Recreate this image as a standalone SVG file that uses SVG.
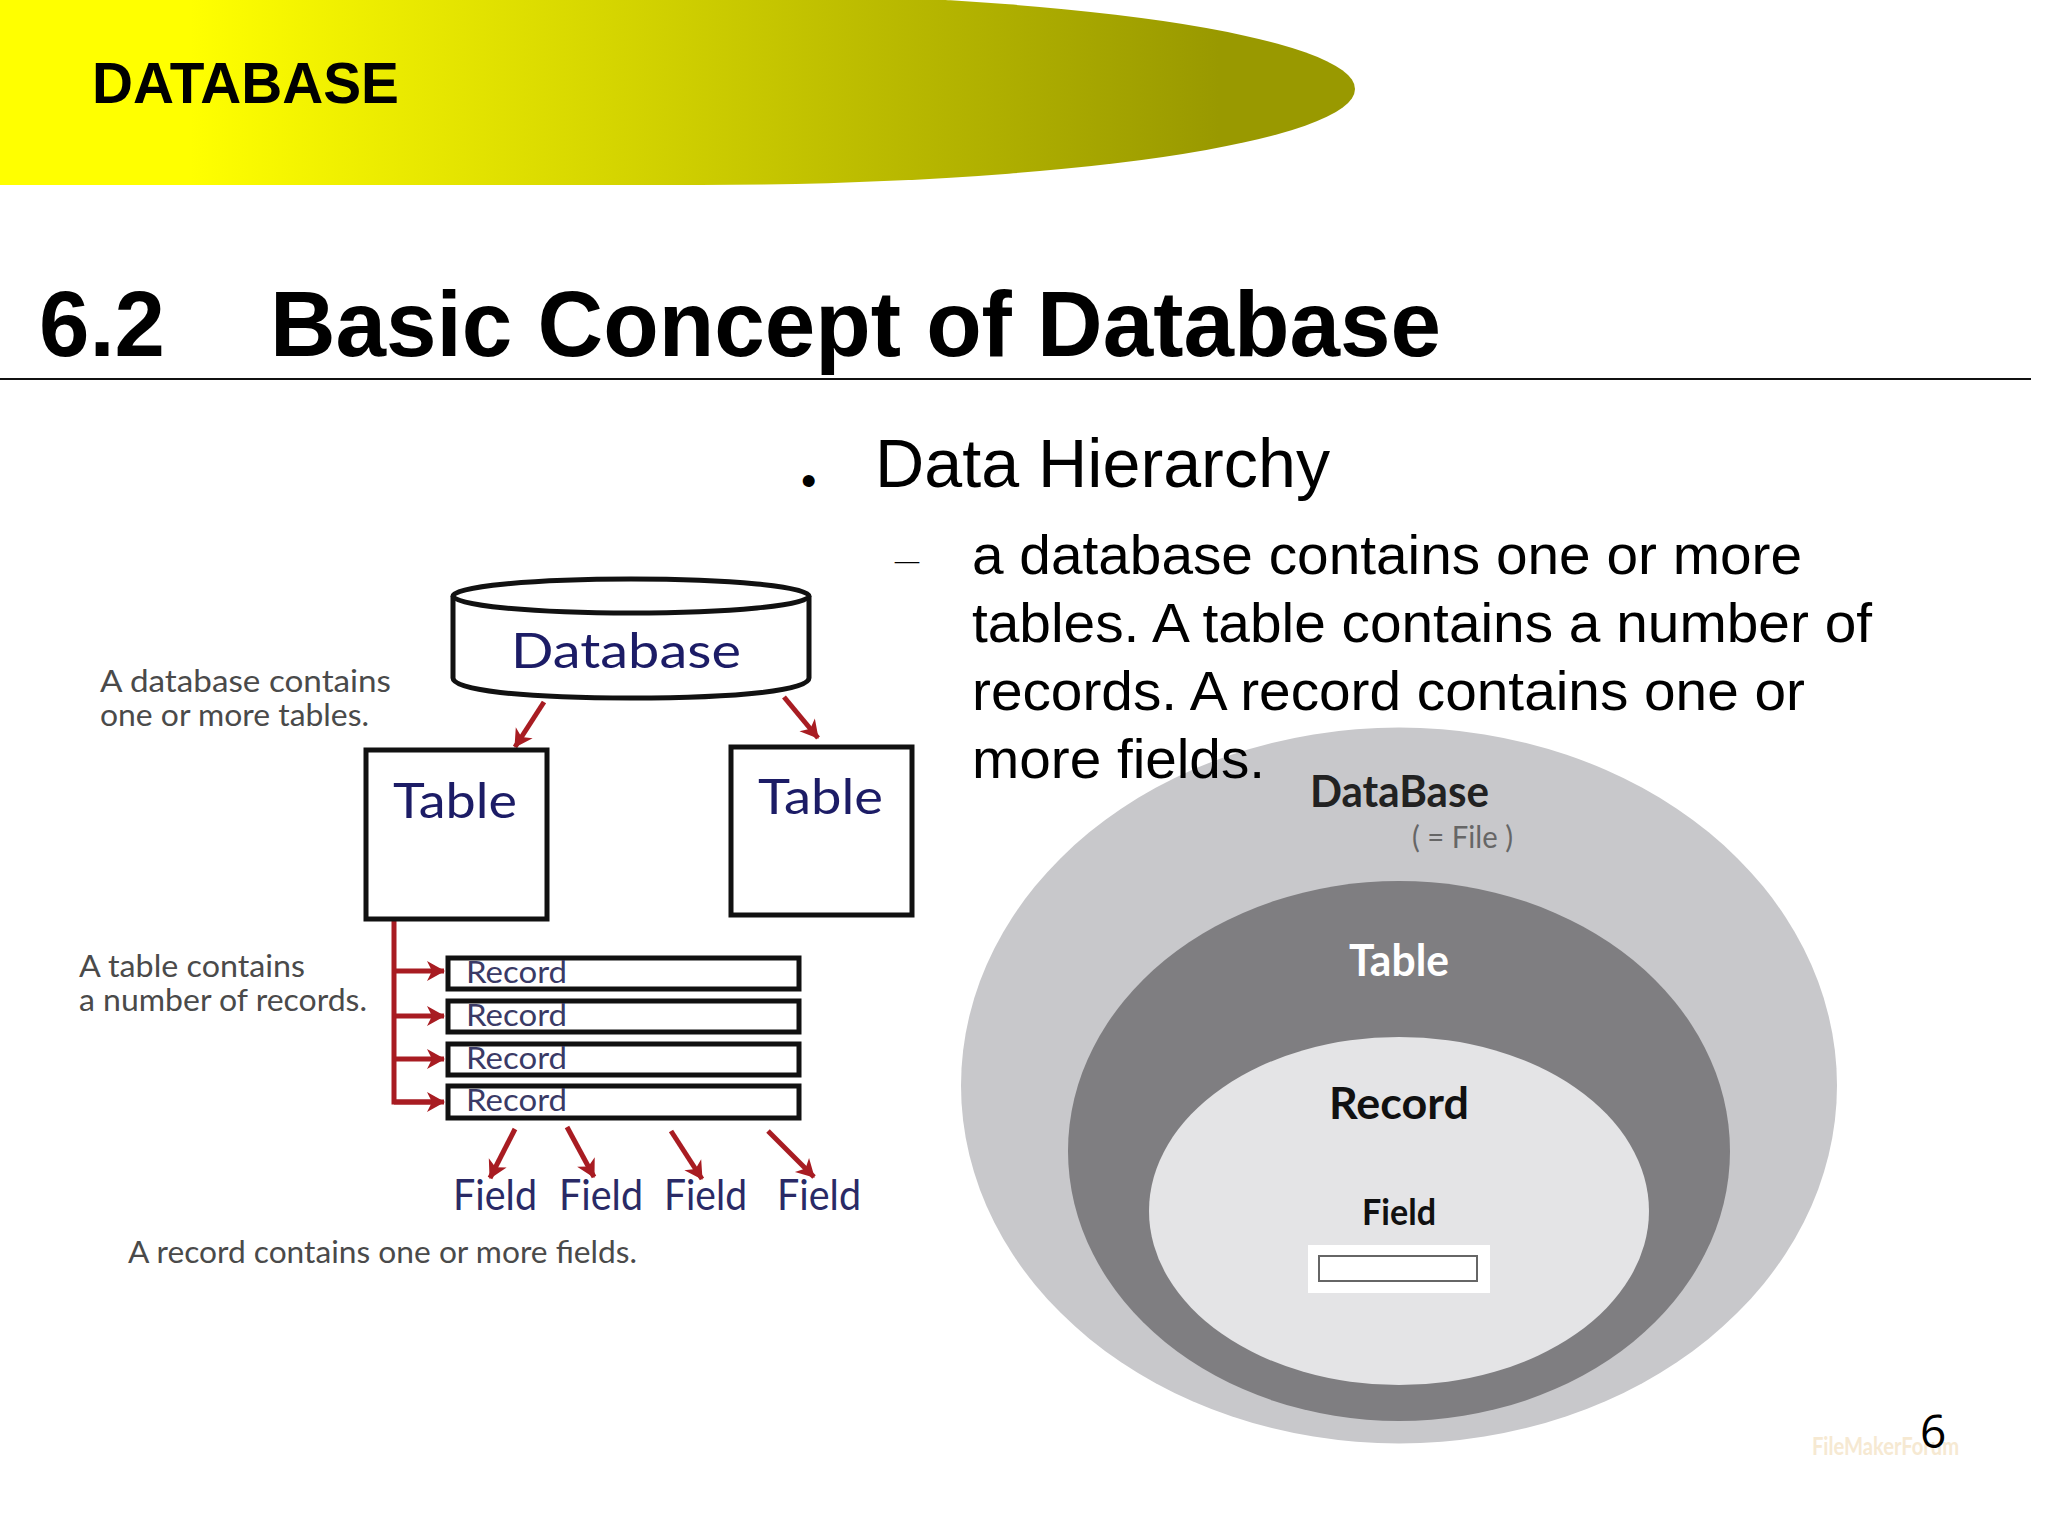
<svg xmlns="http://www.w3.org/2000/svg" width="2048" height="1536" viewBox="0 0 2048 1536">
<style>
text{font-family:"Liberation Sans",Arial,sans-serif;fill:#000}
.g{font-family:Lato,"Open Sans",sans-serif}
.navy{fill:#1c1c66}
.note{font-size:30px;fill:#4a4a4a}
.rec{font-size:31px;fill:#3a3a66}
.fld{font-size:43px;fill:#2a2a66}
.box{fill:#fff;stroke:#111;stroke-width:5}
.red{fill:none;stroke:#a81c22;stroke-width:5}
.arr{marker-end:url(#ah)}
.body{font-size:56px}
.gill{font-family:Lato,"Open Sans",sans-serif;font-weight:700}
</style>
<defs>
<linearGradient id="hdr" gradientUnits="userSpaceOnUse" x1="0" y1="0" x2="1355" y2="0">
<stop offset="0.14" stop-color="#ffff00"/><stop offset="0.9" stop-color="#999900"/>
</linearGradient>
<marker id="ah" markerUnits="userSpaceOnUse" markerWidth="24" markerHeight="24" refX="20" refY="12" orient="auto">
<path d="M3 2 L21 12 L3 22 L8 12 Z" fill="#a81c22"/>
</marker>
</defs>
<rect width="2048" height="1536" fill="#fff"/>
<g id="header">
<path d="M0 -7H700A655 96 0 0 1 700 185H0Z" fill="url(#hdr)"/>
<text x="92" y="103" font-size="57" font-weight="700" textLength="307" lengthAdjust="spacingAndGlyphs">DATABASE</text>
</g>
<g id="title">
<text x="39" y="356" font-size="92" font-weight="700" textLength="126" lengthAdjust="spacingAndGlyphs">6.2</text>
<text x="270" y="356" font-size="92" font-weight="700" textLength="1171" lengthAdjust="spacingAndGlyphs">Basic Concept of Database</text>
<rect x="0" y="378" width="2031" height="2" fill="#111"/>
</g>
<g id="nested-diagram">
<ellipse id="n-database" cx="1399" cy="1085.5" rx="438" ry="358" fill="#c8c8cb"/>
<ellipse id="n-table" cx="1399" cy="1151" rx="331" ry="270" fill="#7f7e81"/>
<ellipse id="n-record" cx="1399" cy="1211" rx="250" ry="174" fill="#e4e4e6"/>
<text class="gill" x="1310" y="807" font-size="43" style="fill:#222" textLength="179" lengthAdjust="spacingAndGlyphs">DataBase</text>
<text class="g" x="1412" y="848" font-size="30" style="fill:#666" textLength="101" lengthAdjust="spacingAndGlyphs">( = File )</text>
<text class="gill" x="1349" y="976" font-size="44" style="fill:#fff" textLength="100" lengthAdjust="spacingAndGlyphs">Table</text>
<text class="gill" x="1329" y="1119" font-size="44" style="fill:#111" textLength="140" lengthAdjust="spacingAndGlyphs">Record</text>
<text class="gill" x="1362" y="1225" font-size="36" style="fill:#111" textLength="74" lengthAdjust="spacingAndGlyphs">Field</text>
<rect x="1308" y="1245" width="182" height="48" fill="#fff"/>
<rect x="1319" y="1256" width="158" height="25" fill="#fff" stroke="#666" stroke-width="2"/>
</g>
<g id="connectors">
<path class="red" d="M394 919V1102H440"/>
<path class="red arr" d="M394 971H444"/>
<path class="red arr" d="M394 1016H444"/>
<path class="red arr" d="M394 1059H444"/>
<path class="red arr" d="M394 1102H444"/>
<path class="red arr" d="M544 702L515 747"/>
<path class="red arr" d="M784 697L818 738"/>
<path class="red arr" d="M515 1129L490 1178"/>
<path class="red arr" d="M567 1127L594 1177"/>
<path class="red arr" d="M671 1131L702 1179"/>
<path class="red arr" d="M768 1131L814 1177"/>
</g>
<g id="node-database">
<path class="box" d="M453 596V678C453 690 520 698 631 698S809 690 809 678V596"/>
<ellipse cx="631" cy="596" rx="178" ry="17" class="box"/>
<text class="g navy" x="511" y="668" font-size="48" textLength="230" lengthAdjust="spacingAndGlyphs">Database</text>
</g>
<g id="node-table-1">
<rect class="box" x="366" y="750" width="181" height="169"/>
<text class="g navy" x="393" y="818" font-size="49" textLength="124" lengthAdjust="spacingAndGlyphs">Table</text>
</g>
<g id="node-table-2">
<rect class="box" x="731" y="747" width="181" height="168"/>
<text class="g navy" x="758" y="814" font-size="49" textLength="125" lengthAdjust="spacingAndGlyphs">Table</text>
</g>
<g id="node-record-1"><rect class="box" x="448" y="958" width="351" height="31"/><text class="g rec" x="466" y="983" textLength="101" lengthAdjust="spacingAndGlyphs">Record</text></g>
<g id="node-record-2"><rect class="box" x="448" y="1001" width="351" height="31"/><text class="g rec" x="466" y="1026" textLength="101" lengthAdjust="spacingAndGlyphs">Record</text></g>
<g id="node-record-3"><rect class="box" x="448" y="1044" width="351" height="31"/><text class="g rec" x="466" y="1069" textLength="101" lengthAdjust="spacingAndGlyphs">Record</text></g>
<g id="node-record-4"><rect class="box" x="448" y="1086" width="351" height="32"/><text class="g rec" x="466" y="1111" textLength="101" lengthAdjust="spacingAndGlyphs">Record</text></g>
<g id="node-fields">
<text class="g fld" x="453" y="1210" textLength="84" lengthAdjust="spacingAndGlyphs">Field</text>
<text class="g fld" x="559" y="1210" textLength="84" lengthAdjust="spacingAndGlyphs">Field</text>
<text class="g fld" x="664" y="1210" textLength="83" lengthAdjust="spacingAndGlyphs">Field</text>
<text class="g fld" x="777" y="1210" textLength="84" lengthAdjust="spacingAndGlyphs">Field</text>
</g>
<g id="notes">
<text class="g note" x="100" y="692" textLength="291" lengthAdjust="spacingAndGlyphs">A database contains</text>
<text class="g note" x="100" y="726" textLength="269" lengthAdjust="spacingAndGlyphs">one or more tables.</text>
<text class="g note" x="79" y="977" textLength="226" lengthAdjust="spacingAndGlyphs">A table contains</text>
<text class="g note" x="79" y="1011" textLength="288" lengthAdjust="spacingAndGlyphs">a number of records.</text>
<text class="g note" x="128" y="1263" textLength="509" lengthAdjust="spacingAndGlyphs">A record contains one or more fields.</text>
</g>
<g id="bullets">
<text x="801" y="496" font-size="44">•</text>
<text x="875" y="487" font-size="68" textLength="455" lengthAdjust="spacingAndGlyphs">Data Hierarchy</text>
<text x="895" y="568" font-size="24" textLength="24" lengthAdjust="spacingAndGlyphs" style="font-family:'Liberation Serif',serif">–</text>
<text class="body" x="972" y="574" textLength="830" lengthAdjust="spacingAndGlyphs">a database contains one or more</text>
<text class="body" x="972" y="642" textLength="900" lengthAdjust="spacingAndGlyphs">tables. A table contains a number of</text>
<text class="body" x="972" y="710" textLength="833" lengthAdjust="spacingAndGlyphs">records. A record contains one or</text>
<text class="body" x="972" y="778" textLength="293" lengthAdjust="spacingAndGlyphs">more fields.</text>
</g>
<g id="footer">
<text class="g" x="1812" y="1455" font-size="24" font-weight="700" style="fill:#f6e9d2" textLength="147" lengthAdjust="spacingAndGlyphs">FileMakerForum</text>
<text x="1920" y="1448" font-size="46" style="font-family:'Open Sans',sans-serif">6</text>
</g>
</svg>
